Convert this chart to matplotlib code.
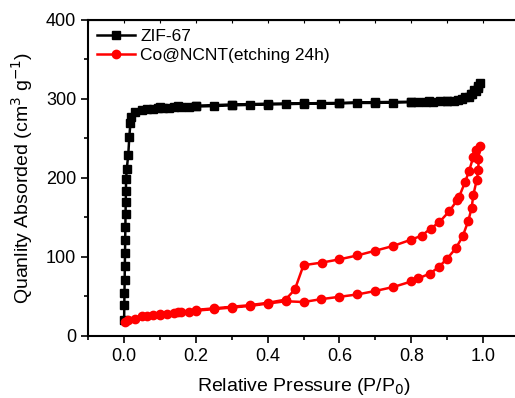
import matplotlib.pyplot as plt
from matplotlib.ticker import MultipleLocator

plt.rcParams['font.family'] = ['Liberation Sans', 'DejaVu Sans']

# ZIF-67 isotherm (adsorption then desorption)
zif_x = [0.0005, 0.001, 0.0015, 0.002, 0.0025, 0.003, 0.0035, 0.004, 0.0045,
         0.005, 0.0055, 0.006, 0.008, 0.012, 0.015, 0.018, 0.02, 0.03,
         0.05, 0.065, 0.08, 0.095, 0.11, 0.125, 0.14, 0.16, 0.18, 0.2,
         0.25, 0.3, 0.35, 0.4, 0.45, 0.5, 0.55, 0.6, 0.65, 0.7, 0.75,
         0.8, 0.82, 0.84, 0.86, 0.88, 0.9, 0.92, 0.94, 0.96, 0.97, 0.98,
         0.985, 0.99,
         0.985, 0.975, 0.965, 0.95, 0.93, 0.9, 0.85, 0.8, 0.7, 0.6, 0.5,
         0.4, 0.3, 0.2, 0.15, 0.1]
zif_y = [20, 39, 54, 71, 88, 105, 121, 138, 155,
         169, 184, 199, 212, 229, 252, 269, 277, 283,
         286, 287, 287.5, 288, 288.5, 289, 289.5, 290, 290, 290.5,
         291, 292, 292.5, 293, 293.5, 294, 294, 294.5, 295, 295, 295.5,
         296, 296, 296.5, 296.5, 297, 297.5, 298, 300, 303, 306, 310,
         314, 320,
         316, 311, 306, 302, 299, 297.5, 297, 296.5, 296, 295, 294.5,
         294, 293, 291.5, 291, 290]

# Co@NCNT isotherm (adsorption then desorption)
co_x = [0.003, 0.03, 0.063, 0.08, 0.1, 0.12, 0.14, 0.16, 0.18, 0.2,
        0.25, 0.3, 0.35, 0.4, 0.45, 0.5, 0.55, 0.6, 0.65, 0.7, 0.75,
        0.8, 0.82, 0.852, 0.876, 0.9, 0.924, 0.943, 0.959, 0.968, 0.973,
        0.982, 0.987, 0.987, 0.992,
        0.98, 0.973, 0.961, 0.95, 0.933, 0.928, 0.906, 0.878, 0.854, 0.829,
        0.8, 0.75, 0.7, 0.65, 0.6, 0.552, 0.5, 0.476, 0.45, 0.4, 0.35,
        0.3, 0.25, 0.2, 0.15, 0.1, 0.05, 0.01]
co_y = [18, 22, 25, 26, 27, 28, 29, 30, 31, 32,
        34, 36, 38, 41, 44, 43, 46.7, 49.6, 52.6, 57, 62,
        69, 73, 79, 87, 98, 111, 126, 146, 162, 179,
        197, 210, 224, 241,
        235, 227, 209, 195, 176, 172, 158, 144, 136, 127,
        122, 114, 108, 102, 97, 93, 89.6, 59, 46, 42, 39,
        37, 35, 33, 30, 28, 25, 20]

fig = plt.figure(figsize=(5.15, 3.98), dpi=100)
ax = fig.add_axes([0.1709, 0.1558, 0.8369, 0.794])

ax.plot(zif_x, zif_y, color='black', marker='s', markersize=5.5, linewidth=1.8,
        label='ZIF-67')
ax.plot(co_x, co_y, color='red', marker='o', markersize=6, linewidth=1.8,
        label='Co@NCNT(etching 24h)')

ax.set_xlim(-0.1, 1.1)
ax.set_ylim(0, 400)
ax.xaxis.set_major_locator(MultipleLocator(0.2))
ax.xaxis.set_minor_locator(MultipleLocator(0.1))
ax.yaxis.set_major_locator(MultipleLocator(100))
ax.yaxis.set_minor_locator(MultipleLocator(50))
ax.set_xticks([0.0, 0.2, 0.4, 0.6, 0.8, 1.0])
ax.set_xticklabels(['0.0', '0.2', '0.4', '0.6', '0.8', '1.0'])

ax.tick_params(which='major', direction='out', length=5, width=1.2,
               labelsize=13, colors='black')
ax.tick_params(which='minor', direction='out', length=3, width=1.2)
for s in ax.spines.values():
    s.set_linewidth(1.5)

# small inward ticks along the top axis
top = ax.secondary_xaxis('top')
top.xaxis.set_major_locator(MultipleLocator(0.1))
top.tick_params(direction='in', length=2, width=0.8, labeltop=False)

ax.set_xlabel('Relative Pressure (P/P$_0$)', fontsize=14, labelpad=8)
ax.set_ylabel('Quanlity Absorded (cm$^3$ g$^{-1}$)', fontsize=14, labelpad=8)

ax.legend(loc='upper left', frameon=False, fontsize=12.5, handlelength=2.2,
          handletextpad=0.3, borderaxespad=0.1, labelspacing=0.25)

fig.savefig('out.png', dpi=100)
